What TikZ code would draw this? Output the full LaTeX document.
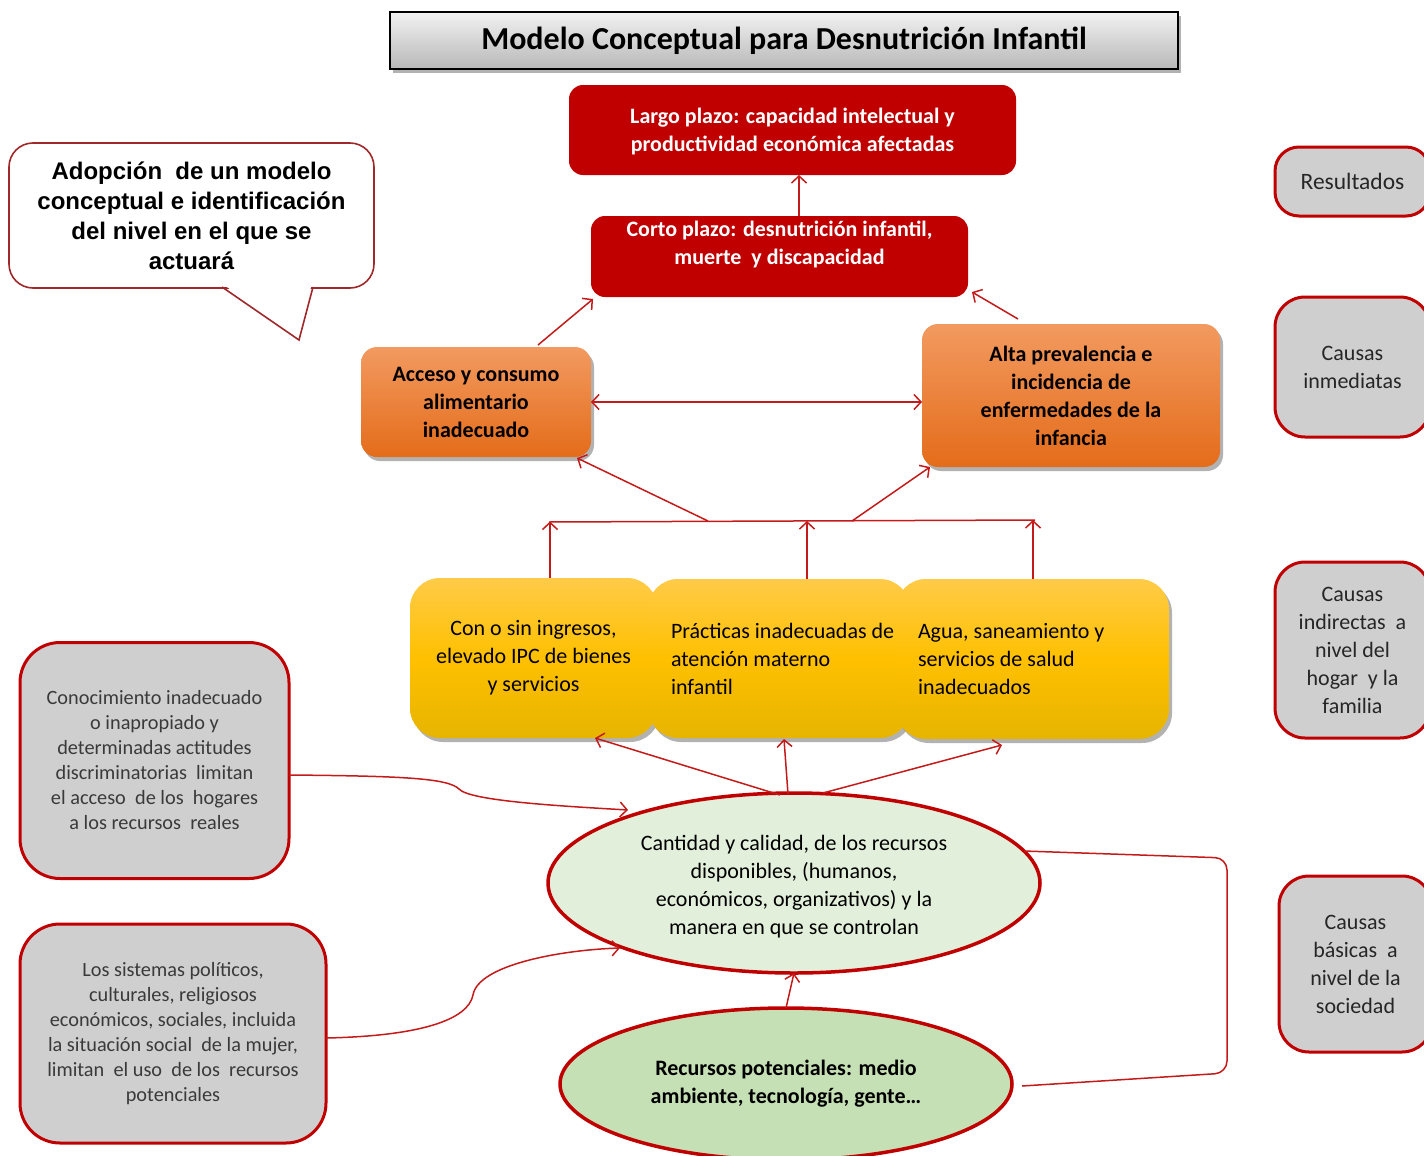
\documentclass[tikz,border=0pt]{standalone}
\usepackage{fontspec}
\setmainfont{Carlito}
\newfontfamily\calloutfont{Liberation Sans}
\usetikzlibrary{arrows.meta,shapes.geometric,shadows,calc}
\definecolor{mred}{HTML}{C00000}
\definecolor{lred}{HTML}{C41A1A}
\definecolor{orgtop}{HTML}{F29A60}
\definecolor{orgbot}{HTML}{E46C1A}
\definecolor{yeltop}{HTML}{FFCB48}
\definecolor{yelmid}{HTML}{FFC000}
\definecolor{yelbot}{HTML}{E6B400}
\definecolor{grayfill}{HTML}{D0CFCF}
\definecolor{ellA}{HTML}{E2EFDA}
\definecolor{ellB}{HTML}{C5E0B4}
\definecolor{calloutred}{HTML}{A0282A}
\definecolor{txtgray}{HTML}{3A3A3A}
\definecolor{txtdark}{HTML}{262626}
\begin{document}
\begin{tikzpicture}[x=1pt,y=-1pt,
  every node/.style={inner sep=0pt, outer sep=0pt},
  softshadow/.style={drop shadow={shadow xshift=3pt,shadow yshift=-4pt,opacity=0.3,fill=black}},
  conn/.style={draw=lred, line width=1.5pt, -{Straight Barb[length=7pt,width=15pt,line width=1.5pt]}},
  conn2/.style={draw=lred, line width=1.5pt, {Straight Barb[length=7pt,width=15pt,line width=1.5pt]}-{Straight Barb[length=7pt,width=15pt,line width=1.5pt]}},
  plainline/.style={draw=lred, line width=1.5pt},
  titlebox/.style={draw=black, line width=1.5pt, top color=black!5, bottom color=black!28, softshadow,
     font=\fontsize{32}{38}\selectfont\bfseries},
  redbox/.style={fill=mred, rounded corners=14pt},
  redtext/.style={text=white, font=\fontsize{22}{28}\selectfont\bfseries, align=center},
  orgbox/.style={rounded corners=16pt, top color=orgtop, bottom color=orgbot, softshadow,
     text=black, font=\fontsize{22}{28}\selectfont\bfseries, align=center},
  yelbox/.style={rounded corners=30pt, top color=yeltop, bottom color=yelbot, middle color=yelmid, softshadow,
     text=black, font=\fontsize{22}{28}\selectfont},
  graybox/.style={draw=mred, line width=3pt, fill=grayfill, rounded corners=40pt,
     text=txtgray, font=\fontsize{20.3}{25}\selectfont, align=center},
  sidebox/.style={draw=mred, line width=3pt, fill=grayfill, rounded corners=24pt,
     text=txtdark, font=\fontsize{22}{28}\selectfont, align=center},
  ellbox/.style={ellipse, draw=mred, line width=3.5pt, align=center, text=black,
     font=\fontsize{22}{28}\selectfont},
  calloutbox/.style={draw=calloutred, line width=1.6pt, fill=white, rounded corners=24pt,
     align=center, font=\calloutfont\bfseries\fontsize{24}{30}\selectfont}
]
\useasboundingbox (0,0) rectangle (1424,1156);

% title
\node[titlebox, minimum width=788pt, minimum height=57pt] (title) at (784,40.5)
  {Modelo Conceptual para Desnutrición Infantil};

% callout
\node[calloutbox, minimum width=365pt, minimum height=145pt] (callout) at (191.5,215.5)
  {Adopción\ \ de un modelo\\conceptual e identificación\\del nivel en el que se\\actuará};
\fill[white] (223.5,284.6) -- (299,338) -- (311.5,284.6) -- cycle;
\draw[draw=calloutred, line width=1.6pt, line join=miter] (222,287) -- (299,340) -- (313,287);

% results
\node[redbox, minimum width=447pt, minimum height=90pt] (largo) at (792.5,130) {};
\node[redtext] (largotext) at (792.5,132)
  {Largo plazo: capacidad intelectual y\\productividad económica afectadas};
\node[redbox, minimum width=377pt, minimum height=81pt] (corto) at (779.5,256.5) {};
\node[redtext] (cortotext) at (779.5,244.5)
  {Corto plazo: desnutrición infantil,\\muerte\ \ y discapacidad};

% immediate causes
\node[orgbox, minimum width=230pt, minimum height=110pt] (acceso) at (476,402)
  {Acceso y consumo\\alimentario\\inadecuado};
\node[orgbox, minimum width=298pt, minimum height=143pt] (alta) at (1071,395.5)
  {Alta prevalencia e\\incidencia de\\enfermedades de la\\infancia};

% underlying causes
\node[yelbox, minimum width=247pt, minimum height=160pt, align=center] (y1) at (533.5,658)
  {Con o sin ingresos,\\elevado IPC de bienes\\y servicios};
\node[yelbox, anchor=west, minimum width=262pt, minimum height=159pt, text width=216pt, align=flush left] (y2) at (648,658.5)
  {Prácticas inadecuadas \rlap{de}\\atención materno\\infantil};
\node[yelbox, anchor=west, minimum width=273pt, minimum height=160pt, text width=229pt, align=flush left] (y3) at (896,659)
  {Agua, saneamiento y\\servicios de salud\\inadecuados};

% basic causes
\node[ellbox, fill=ellA, minimum width=492pt, minimum height=180pt] (ell1) at (794,883) {};
\node[ellbox, draw=none, minimum width=0pt, minimum height=0pt] (ell1text) at (794,886.5)
  {Cantidad y calidad, de los recursos\\disponibles, (humanos,\\económicos, organizativos) y la\\manera en que se controlan};
\node[ellbox, fill=ellB, minimum width=452pt, minimum height=152pt, font=\fontsize{22}{28}\selectfont\bfseries] (ell2) at (786,1084)
  {Recursos potenciales: medio\\ambiente, tecnología, gente…};

% left gray boxes
\node[graybox, minimum width=269pt, minimum height=236pt] (g1) at (154.5,760.5)
  {Conocimiento inadecuado\\o inapropiado y\\determinadas actitudes\\discriminatorias\ \ limitan\\el acceso\ \ de los\ \ hogares\\a los recursos\ \ reales};
\node[graybox, minimum width=306pt, minimum height=219pt] (g2) at (173,1033.5)
  {Los sistemas políticos,\\culturales, religiosos\\económicos, sociales, incluida\\la situación social\ \ de la mujer,\\limitan\ \ el uso\ \ de los\ \ recursos\\potenciales};

% right side labels
\node[sidebox, minimum width=155pt, minimum height=69pt, font=\fontsize{23.5}{28}\selectfont] (res) at (1352.5,181.5) {Resultados};
\node[sidebox, minimum width=155pt, minimum height=140pt, rounded corners=30pt] (inm) at (1352.5,367) {Causas\\inmediatas};
\node[sidebox, minimum width=155pt, minimum height=176pt, rounded corners=30pt] (ind) at (1352.5,650) {Causas\\indirectas\ \ a\\nivel del\\hogar\ \ y la\\familia};
\node[sidebox, minimum width=153pt, minimum height=176pt, rounded corners=30pt] (bas) at (1355.5,964) {Causas\\básicas\ \ a\\nivel de la\\sociedad};

% connectors: results
\coordinate (x799) at (799,0);
\draw[conn] (corto.north -| x799) -- (largo.south -| x799);
\draw[conn] ($(acceso.north west)+(177,-2)$) -- ($(corto.south west)+(2,2)$);
\draw[conn] ($(alta.north west)+(96,-5)$) -- ($(corto.south east)+(4,-5)$);
\draw[conn2] (acceso.east) -- (acceso.east -| alta.west);

% connectors: underlying to immediate
\coordinate (hl) at (549,522);
\coordinate (hr) at (1035,520);
\coordinate (j1) at (708,521);
\coordinate (j2) at (852,521);
\coordinate (a1) at (550,521.5);
\coordinate (a2) at (807,521);
\coordinate (a3) at (1033,520);
\draw[plainline] (hl) -- (hr);
\draw[conn] (j1) -- ($(acceso.south east)+(-14,1)$);
\draw[conn] (j2) -- ($(alta.south west)+(8,0)$);
\draw[conn] (y1.north -| a1) -- (a1);
\draw[conn] (y2.north -| a2) -- (a2);
\draw[conn] (y3.north -| a3) -- (a3);

% connectors: basic to underlying
\draw[conn] ($(ell1.north)+(-14,2)$) -- ($(y1.south east)+(-62,0)$);
\draw[conn] ($(ell1.north)+(-6,1)$) -- ($(y2.south west)+(136,1)$);
\draw[conn] ($(ell1.north)+(29,0)$) -- ($(y3.south west)+(106,6)$);
\draw[conn] (ell2.north) -- (ell1.south);

% curved connectors from gray boxes
\draw[conn] ($(g1.east)+(0,14.5)$) .. controls (400,776) and (448,778) .. (459,789)
   .. controls (470,801) and (560,806) .. ($(ell1.center)+(-166,-73)$);
\draw[conn] ($(g2.east)+(0,4.5)$) .. controls (420,1036) and (468,1020) .. (473,995)
   .. controls (478,965) and (560,950) .. ($(ell1.center)+(-174,65)$);

% bracket between the ellipses
\draw[plainline, rounded corners=12pt] ($(ell1.center)+(230,-32)$) -- (1227,858) -- (1227,1073) -- ($(ell2.center)+(236,2)$);
\end{tikzpicture}
\end{document}
